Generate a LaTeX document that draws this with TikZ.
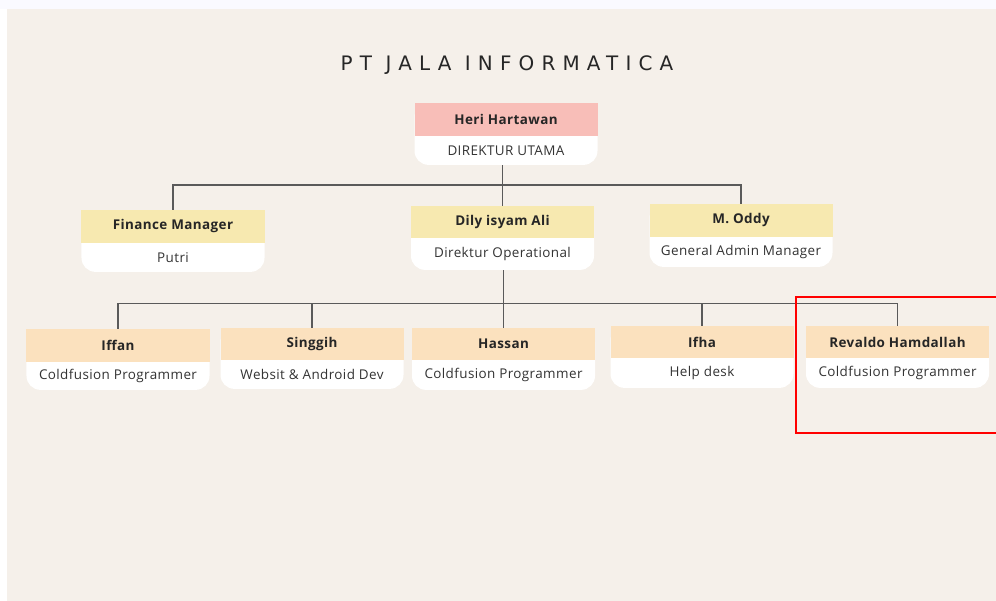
\documentclass[tikz,border=0pt]{standalone}
\usepackage{fontspec}
\setmainfont{Open Sans}[LetterSpace=3]
\newfontfamily\titlefont[LetterSpace=36]{DejaVu Sans}
\definecolor{bgc}{RGB}{245,240,234}
\definecolor{pinkc}{RGB}{248,190,184}
\definecolor{yelc}{RGB}{247,233,176}
\definecolor{peachc}{RGB}{251,225,190}
\definecolor{linec}{RGB}{90,90,90}
\tikzset{
  conn/.style={draw=linec, line width=1.3bp},
  bodybox/.style={fill=white, draw=none, rectangle, rounded corners=14bp, minimum width=183bp, inner sep=0pt},
  headbox/.style={draw=none, rectangle, minimum width=183bp, inner sep=0pt, font=\bfseries\fontsize{13.5}{15}\selectfont, text=black!85},
  subtext/.style={inner sep=0pt, font=\fontsize{13.5}{15}\selectfont, text=black!80},
}
% #1 name, #2 x, #3 ytop, #4 ymid, #5 ybot, #6 colour, #7 title, #8 subtitle
\newcommand\orgbox[8]{%
  \node[bodybox, minimum height={(#5)-(#3)}] (#1-bg) at (#2,{((#3)+(#5))/2}) {};
  \node[headbox, fill=#6, minimum height={(#4)-(#3)}] (#1) at (#2,{((#3)+(#4))/2}) {#7};
  \node[subtext] (#1-sub) at (#2,{((#4)+(#5))/2}) {#8};
}
\begin{document}
\begin{tikzpicture}[x=1bp,y=-1bp]
\useasboundingbox (0,0) rectangle (996,601);
\fill[white] (0,0) rectangle (996,601);
\fill[blue!2!white] (0,0) rectangle (996,9);
\fill[bgc] (7,9) rectangle (996,601);

\node[font=\titlefont\fontsize{20}{23}\selectfont, text=black!85] (title) at (507,65) {PT JALA INFORMATICA};

\orgbox{heri}{506}{103}{136}{165}{pinkc}{Heri Hartawan}{DIREKTUR UTAMA}
\orgbox{fin}{173}{210}{243}{272}{yelc}{Finance Manager}{Putri}
\orgbox{dily}{502.5}{206}{238}{270}{yelc}{Dily isyam Ali}{Direktur Operational}
\orgbox{oddy}{741}{204}{237}{267}{yelc}{M. Oddy}{General Admin Manager}

\orgbox{iffan}{118}{329}{362}{390}{peachc}{Iffan}{Coldfusion Programmer}
\orgbox{singgih}{312}{328}{360}{389}{peachc}{Singgih}{Websit \& Android Dev}
\orgbox{hassan}{503.5}{328}{360}{390}{peachc}{Hassan}{Coldfusion Programmer}
\orgbox{ifha}{702}{326}{358}{388}{peachc}{Ifha}{Help desk}
\orgbox{revaldo}{897.5}{326}{358}{388}{peachc}{Revaldo Hamdallah}{Coldfusion Programmer}

% level 1 connectors
\coordinate (j1) at (502.5,185);
\draw[conn] (heri-bg.south -| j1) -- (j1);
\draw[conn] (fin.north) |- (j1) -| (oddy.north);
\draw[conn] (j1) -- (dily.north);

% level 2 connectors
\coordinate (j2) at (503.5,303.5);
\draw[conn] (dily-bg.south -| j2) -- (j2);
\draw[conn] (iffan.north) |- (j2) -| (revaldo.north);
\draw[conn] (singgih.north) -- (singgih.north |- j2);
\draw[conn] (hassan.north) -- (j2);
\draw[conn] (ifha.north) -- (ifha.north |- j2);

% highlight
\node[draw=red, line width=2bp, rectangle, minimum width=210bp, minimum height=136bp, inner sep=0pt] (hl) at (901,365) {};
\end{tikzpicture}
\end{document}
